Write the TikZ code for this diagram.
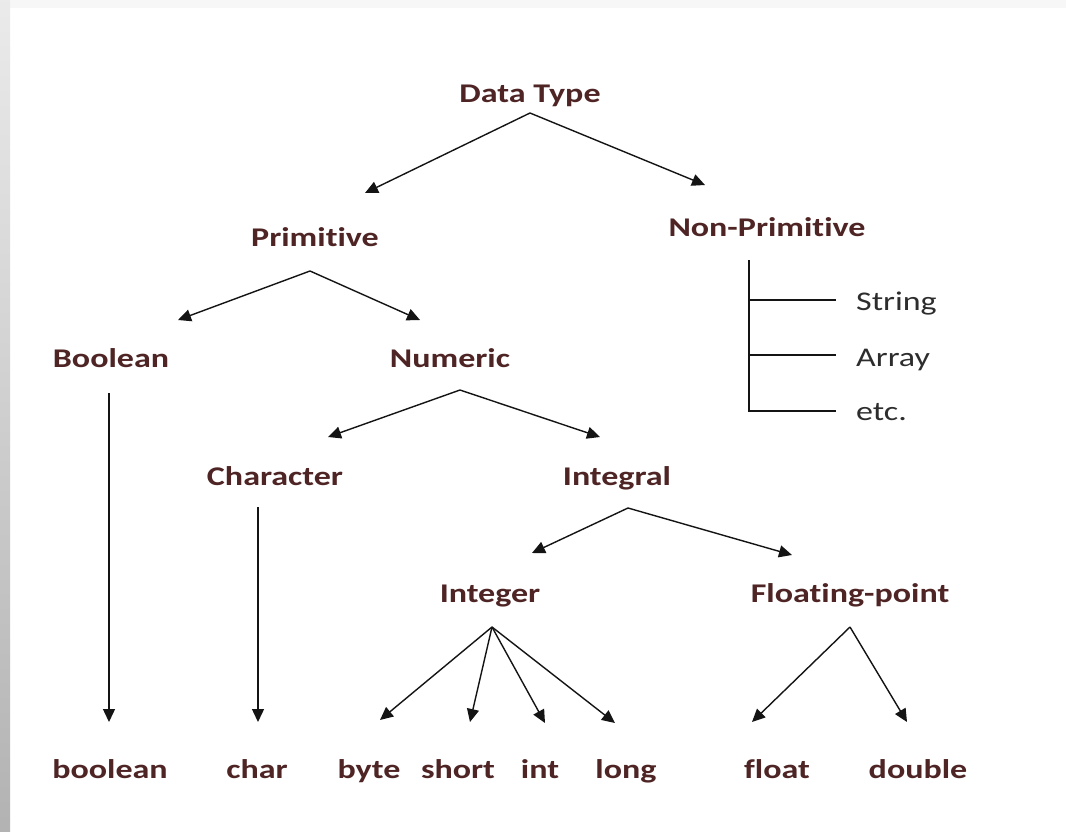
\documentclass[tikz,border=0pt]{standalone}
\usepackage{fontspec}
\setmainfont{Carlito}[Ligatures=CommonOff, FakeStretch=1.26]
\usetikzlibrary{arrows.meta}
\definecolor{colLabel}{RGB}{78,36,36}
\definecolor{colLeaf}{RGB}{45,45,45}
\definecolor{colLine}{RGB}{20,20,20}
\tikzset{
    typebox/.style={inner sep=0pt, anchor=base, text=colLabel, font=\fontsize{27}{30}\selectfont\bfseries},
    kindbox/.style={inner sep=0pt, anchor=base west, text=colLeaf, font=\fontsize{27}{30}\selectfont},
    arrow/.style={-{Triangle[length=13pt, width=12pt]}, line width=1.4pt, draw=colLine},
    branch/.style={line width=1.4pt, draw=colLine}
}

\begin{document}
\begin{tikzpicture}[x=1pt, y=-1pt]
    % page and the grey edge on the left
    \useasboundingbox (0,0) rectangle (1066,831);
    \fill[white] (0,0) rectangle (1066,831);
    \fill[black!3] (0,0) rectangle (1066,8);
    \shade[top color=black!8, bottom color=black!30] (0,0) rectangle (10,831);

    % type hierarchy (placed on baselines)
    \node[typebox] (dtype) at (530,102) {Data Type};
    \node[typebox] (prim) at (315,246) {Primitive};
    \node[typebox] (nonprim) at (767,236) {Non-Primitive};
    \node[typebox] (bool) at (111,367) {Boolean};
    \node[typebox] (numeric) at (450,367) {Numeric};
    \node[typebox] (charact) at (275,485) {Character};
    \node[typebox] (integral) at (617,485) {Integral};
    \node[typebox] (integer) at (490,602) {Integer};
    \node[typebox] (floatpt) at (850,602) {Floating-point};

    % keywords along the bottom
    \node[typebox] (kbool) at (110,778) {boolean};
    \node[typebox] (kchar) at (257,778) {char};
    \node[typebox] (kbyte) at (369,778) {byte};
    \node[typebox] (kshort) at (458,778) {short};
    \node[typebox] (kint) at (540,778) {int};
    \node[typebox] (klong) at (626,778) {long};
    \node[typebox] (kfloat) at (777,778) {float};
    \node[typebox] (kdouble) at (918,778) {double};

    % non-primitive kinds
    \node[kindbox] (kstring) at (856,310) {String};
    \node[kindbox] (karray) at (856,366) {Array};
    \node[kindbox] (ketc) at (856,420) {etc.};

    \draw[arrow] ([shift={(0,11)}]dtype.base) -- ([shift={(50,-53)}]prim.base);
    \draw[arrow] ([shift={(0,11)}]dtype.base) -- ([shift={(-62,-51)}]nonprim.base);
    \draw[arrow] ([shift={(-5,25)}]prim.base) -- ([shift={(67,-47)}]bool.base);
    \draw[arrow] ([shift={(-5,25)}]prim.base) -- ([shift={(-30,-47)}]numeric.base);
    \draw[arrow] ([shift={(10,23)}]numeric.base) -- ([shift={(53,-48)}]charact.base);
    \draw[arrow] ([shift={(10,23)}]numeric.base) -- ([shift={(-17,-48)}]integral.base);
    \draw[arrow] ([shift={(11,23)}]integral.base) -- ([shift={(42,-49)}]integer.base);
    \draw[arrow] ([shift={(11,23)}]integral.base) -- ([shift={(-58,-47)}]floatpt.base);
    \draw[arrow] ([shift={(2,25)}]integer.base) -- ([shift={(11,-58)}]kbyte.base);
    \draw[arrow] ([shift={(2,25)}]integer.base) -- ([shift={(12,-56)}]kshort.base);
    \draw[arrow] ([shift={(2,25)}]integer.base) -- ([shift={(5,-55)}]kint.base);
    \draw[arrow] ([shift={(2,25)}]integer.base) -- ([shift={(-11,-55)}]klong.base);
    \draw[arrow] ([shift={(0,25)}]floatpt.base) -- ([shift={(-25,-56)}]kfloat.base);
    \draw[arrow] ([shift={(0,25)}]floatpt.base) -- ([shift={(-11,-56)}]kdouble.base);
    \draw[arrow] ([shift={(-2,26)}]bool.base) -- ([shift={(-1,-56)}]kbool.base);
    \draw[arrow] ([shift={(-17,22)}]charact.base) -- ([shift={(1,-56)}]kchar.base);

    % bracket under Non-Primitive
    \draw[branch] ([shift={(-18,24)}]nonprim.base) |- ([shift={(-20,-9)}]ketc.base west);
    \draw[branch] ([shift={(-107,-10)}]kstring.base west) -- ([shift={(-20,-10)}]kstring.base west);
    \draw[branch] ([shift={(-107,-11)}]karray.base west) -- ([shift={(-20,-11)}]karray.base west);
\end{tikzpicture}
\end{document}
